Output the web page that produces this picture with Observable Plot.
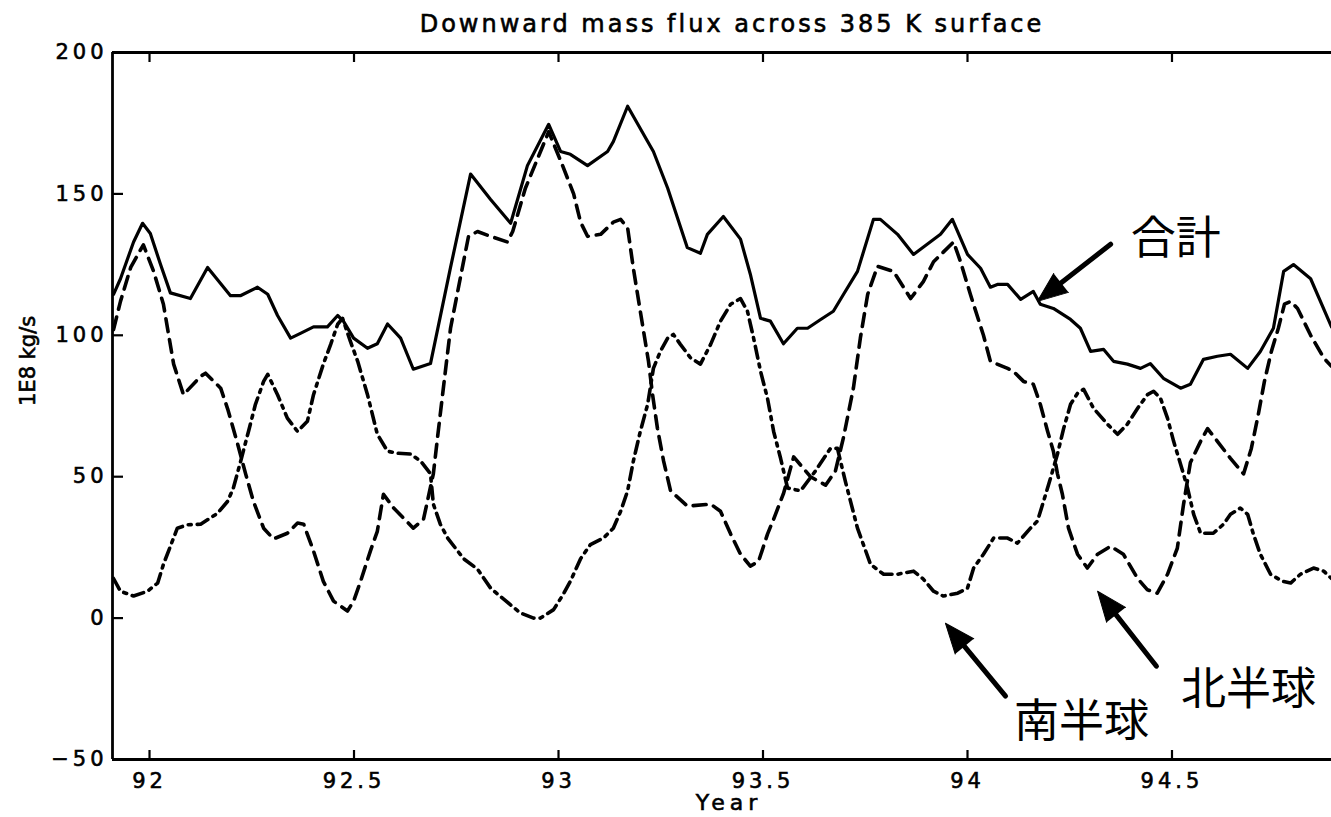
<!DOCTYPE html>
<html>
<head>
<meta charset="utf-8">
<script src="https://cdn.jsdelivr.net/npm/d3@7"></script>
<script src="https://cdn.jsdelivr.net/npm/@observablehq/plot@0.6"></script>
<style>
  html, body { margin: 0; padding: 0; background: #fff; }
  #chart svg { display: block; }
</style>
</head>
<body>
<div id="chart"></div>
<script>
// ---- text ----
const title = "Downward mass flux across 385 K surface";
const xLabel = "Year";
const yLabel = "1E8 kg/s";

// ---- axes ----
const xDomain = [91.9095, 94.890];
const yDomain = [-50, 200];
const xTicks = [92, 92.5, 93, 93.5, 94, 94.5];
const yTicks = [-50, 0, 50, 100, 150, 200];

// ---- series: [year, flux (1E8 kg/s)] ----
const totalSeries = [
  [91.912,114.5],[91.929,120],[91.961,133],[91.983,139.6],[92.002,136],[92.027,125],[92.051,115],
  [92.100,113],[92.142,124],[92.198,114],[92.222,114],[92.264,117],[92.289,114.5],[92.313,107],
  [92.345,99],[92.369,100.7],[92.401,103],[92.435,103],[92.460,107],[92.474,105],[92.499,99],
  [92.533,95.4],[92.557,97],[92.582,104],[92.614,99],[92.645,88],[92.687,90],[92.736,124],
  [92.785,157],[92.834,148],[92.883,139.6],[92.924,160],[92.976,174.6],[93.005,165],[93.029,164],
  [93.071,160],[93.120,165],[93.134,168.5],[93.169,181],[93.218,168.5],[93.232,165],[93.267,152],
  [93.315,131],[93.347,129],[93.364,135.7],[93.403,142],[93.445,134],[93.469,121.6],[93.494,106],
  [93.518,105],[93.550,97],[93.584,102.5],[93.609,102.5],[93.641,105.6],[93.672,108.5],[93.697,114.5],
  [93.731,122.6],[93.770,141],[93.787,141],[93.829,135.7],[93.868,128.6],[93.934,135.7],[93.963,141],
  [94.000,128.6],[94.032,123.7],[94.056,117],[94.073,118],[94.098,118],[94.130,112.7],[94.161,115.5],
  [94.178,111],[94.210,109.5],[94.252,105.6],[94.276,102.5],[94.301,94.3],[94.333,95],[94.357,90.8],
  [94.391,89.8],[94.423,88.3],[94.447,90],[94.479,84.8],[94.521,81.3],[94.545,82.7],[94.577,91.5],
  [94.611,92.6],[94.643,93.3],[94.685,88.3],[94.716,94.3],[94.748,102.5],[94.773,122.6],[94.797,125],
  [94.839,120],[94.890,103]
];

const northSeries = [
  [91.912,102],[91.929,112],[91.954,124],[91.985,132],[92.010,122.6],[92.034,111],[92.059,89.8],
  [92.083,79],[92.125,85.5],[92.137,86.6],[92.174,81.3],[92.191,74],[92.215,61.8],[92.235,51],
  [92.254,41.3],[92.279,31.8],[92.303,28],[92.337,30],[92.362,33.6],[92.377,33.2],[92.401,23.7],
  [92.425,13],[92.450,6],[92.484,2.5],[92.499,6],[92.516,13],[92.540,23.7],[92.557,30.7],
  [92.572,43.8],[92.597,38.9],[92.645,31.8],[92.670,35],[92.694,51],[92.704,63.6],[92.719,82],
  [92.736,102.5],[92.765,124],[92.780,135],[92.802,136.7],[92.834,135],[92.875,133],[92.888,136.7],
  [92.919,152],[92.976,172],[93.010,160],[93.037,150],[93.054,140],[93.071,135],[93.103,135.7],
  [93.134,140],[93.152,141],[93.169,138],[93.183,123.7],[93.200,108.5],[93.220,90.8],[93.230,79],
  [93.242,67],[93.257,55.5],[93.274,45],[93.315,39.6],[93.372,40.3],[93.396,37.8],[93.421,29.7],
  [93.445,22.6],[93.469,18.4],[93.489,20],[93.511,29.7],[93.526,35],[93.550,44],[93.575,57],
  [93.616,50],[93.653,47],[93.677,52],[93.697,64],[93.721,81.3],[93.738,99],[93.756,114.5],
  [93.780,124.4],[93.819,122.6],[93.861,113],[93.892,119],[93.917,126],[93.966,133],[93.983,126],
  [94.007,114.5],[94.039,100],[94.056,90.8],[94.098,88.3],[94.112,87.3],[94.137,83.7],[94.161,82.7],
  [94.178,75.6],[94.196,66],[94.210,59],[94.220,51],[94.232,43.8],[94.247,31.8],[94.269,22.6],
  [94.293,17.7],[94.318,22.6],[94.350,25.4],[94.381,22.6],[94.416,14],[94.440,10],[94.464,8.8],
  [94.489,15.5],[94.513,24.7],[94.528,40],[94.545,55],[94.570,62.5],[94.587,67],[94.611,62.5],
  [94.643,56.5],[94.675,51],[94.694,60],[94.711,72],[94.726,83.7],[94.743,94.3],[94.760,102.5],
  [94.775,111],[94.790,112],[94.807,109.5],[94.839,100],[94.871,92],[94.890,89]
];

const southSeries = [
  [91.912,14],[91.929,9.5],[91.961,7.8],[91.995,9.5],[92.020,12.4],[92.034,19],[92.051,25.4],
  [92.068,31.8],[92.093,33],[92.125,33.2],[92.166,37],[92.191,41.3],[92.205,46],[92.222,55],
  [92.242,66],[92.259,75.6],[92.279,83.7],[92.289,86.2],[92.313,79],[92.337,70.7],[92.362,66],
  [92.386,69.6],[92.401,79],[92.425,89.8],[92.443,96.8],[92.460,103.9],[92.472,106],[92.491,97.9],
  [92.509,90.8],[92.533,79],[92.557,65],[92.582,59],[92.606,58.3],[92.638,58],[92.663,55.5],
  [92.687,51],[92.694,40.3],[92.711,33.2],[92.729,28.3],[92.768,21],[92.802,17.3],[92.834,10.6],
  [92.866,6.7],[92.907,1.8],[92.939,0],[92.956,0],[92.988,3],[93.012,8.5],[93.029,13],
  [93.054,21],[93.078,26],[93.110,28.3],[93.134,31.8],[93.152,37.8],[93.169,45],[93.183,55.5],
  [93.200,66],[93.218,75.6],[93.232,88.3],[93.249,94.3],[93.267,99],[93.281,100.3],[93.298,96.8],
  [93.323,92],[93.347,89.8],[93.372,96.8],[93.396,105],[93.421,111],[93.445,113],[93.462,108.5],
  [93.477,99],[93.494,87.3],[93.511,77.7],[93.526,66],[93.543,56.5],[93.560,46],[93.592,45],
  [93.628,52],[93.665,60],[93.682,60],[93.702,48],[93.731,31.8],[93.763,19],[93.795,15.5],
  [93.829,15.5],[93.868,16.6],[93.892,13.8],[93.917,9.5],[93.941,7.8],[93.976,8.8],[94.000,10.6],
  [94.015,17.7],[94.039,22.6],[94.064,28.3],[94.098,28.3],[94.122,26.5],[94.154,31.8],[94.171,34.3],
  [94.186,41.3],[94.203,49.5],[94.220,58],[94.235,67],[94.252,75.6],[94.269,79.5],[94.284,80.9],
  [94.308,74.2],[94.342,68.6],[94.367,65],[94.391,68.6],[94.416,74.2],[94.440,79],[94.455,80.2],
  [94.472,77.7],[94.489,70.7],[94.504,62.5],[94.521,54.4],[94.538,46],[94.553,36.7],[94.570,30],
  [94.601,30],[94.626,33.2],[94.643,36.7],[94.667,38.9],[94.685,36.7],[94.699,29.7],[94.716,22.6],
  [94.741,15.5],[94.770,13],[94.790,12.4],[94.814,15.5],[94.846,17.7],[94.871,16.6],[94.890,14]
];

// ---- annotations (data units) ----
const noteText = ["合計", "南半球", "北半球"];
const noteYear = [94.509, 94.279, 94.687];
const noteFlux = [133.9, -37.1, -25.8];
const arrowTailYear = [94.350, 94.093, 94.462];
const arrowTailFlux = [132.2, -27.6, -17.0];
const arrowTipYear  = [94.171, 93.946, 94.318];
const arrowTipFlux  = [112.0, -1.8, 9.5];

// ---- build ----
const base = {
  width: 1331, height: 817,
  marginLeft: 112, marginRight: 0, marginTop: 52, marginBottom: 58,
  x: {domain: xDomain},
  y: {domain: yDomain}
};

const probe = Plot.plot({...base, marks: [Plot.ruleX(xDomain), Plot.ruleY(yDomain)]});
const sx = probe.scale("x"), sy = probe.scale("y");

const notes = noteText.map((t, i) => ({text: t, x: noteYear[i], y: noteFlux[i]}));
const arrows = noteText.map((t, i) => {
  const dx = sx.apply(arrowTipYear[i]) - sx.apply(arrowTailYear[i]);
  const dy = sy.apply(arrowTipFlux[i]) - sy.apply(arrowTailFlux[i]);
  return {
    x1: arrowTailYear[i], y1: arrowTailFlux[i],
    x2: arrowTipYear[i], y2: arrowTipFlux[i],
    angle: Math.atan2(dx, -dy) * 180 / Math.PI
  };
});

const X = d => d[0], Y = d => d[1];

const chart = Plot.plot({
  ...base,
  style: {fontFamily: "'DejaVu Sans', sans-serif", fontSize: "21px", color: "black", background: "white", overflow: "visible"},
  marks: [
    Plot.line(totalSeries, {x: X, y: Y, stroke: "black", strokeWidth: 3.2, strokeLinejoin: "round"}),
    Plot.line(northSeries, {x: X, y: Y, stroke: "black", strokeWidth: 3.6, strokeDasharray: "13,8"}),
    Plot.line(southSeries, {x: X, y: Y, stroke: "black", strokeWidth: 3.6, strokeDasharray: "12,6,3,6"}),
    Plot.ruleX([xDomain[0]], {stroke: "black", strokeWidth: 2.8}),
    Plot.ruleY(yDomain, {stroke: "black", strokeWidth: 2.8}),
    Plot.axisY({ticks: yTicks, tickSize: -11, tickPadding: 16, strokeWidth: 2.2, label: null, fontSize: 21}),
    Plot.axisX({anchor: "bottom", ticks: xTicks, tickSize: -9, tickPadding: 23, strokeWidth: 2.2, label: null, fontSize: 21, tickFormat: d => String(d)}),
    Plot.axisX({anchor: "top", ticks: xTicks, tickSize: -9, strokeWidth: 2.2, label: null, tickFormat: () => ""}),
    Plot.text([title], {frameAnchor: "top", lineAnchor: "middle", dy: -28, dx: 10, fontSize: 24, fill: "black"}),
    Plot.text([xLabel], {frameAnchor: "bottom", lineAnchor: "middle", dy: 43, dx: 7, fontSize: 22, fill: "black"}),
    Plot.text([yLabel], {frameAnchor: "left", lineAnchor: "middle", dx: -84, rotate: -90, fontSize: 21, fill: "black"}),
    Plot.arrow(arrows, {x1: "x1", y1: "y1", x2: "x2", y2: "y2", headLength: 0, insetEnd: 18, stroke: "black", strokeWidth: 5}),
    Plot.vector(arrows, {x: "x2", y: "y2", rotate: "angle", length: 30, r: 12, shape: "spike", anchor: "end", fill: "black", stroke: "black", strokeWidth: 1}),
    Plot.text(notes, {x: "x", y: "y", text: "text", fontSize: 45, fontFamily: "'Noto Sans CJK JP', sans-serif", fill: "black"})
  ]
});

document.getElementById("chart").appendChild(chart);

// letter spacing and slight stroke to mimic the wide, heavy original typeface
const svg = d3.select(chart);
svg.selectAll("text").each(function () {
  const t = this.textContent;
  let ls = null;
  if (t === title) ls = "3px";
  else if (t === xLabel) ls = "5px";
  else if (/^[−-]?\d+(\.\d+)?$/.test(t)) ls = "4px";
  if (ls) d3.select(this).style("letter-spacing", ls);
  if (!noteText.includes(t)) d3.select(this).style("stroke", "black").style("stroke-width", "0.6px");
});
</script>
</body>
</html>
